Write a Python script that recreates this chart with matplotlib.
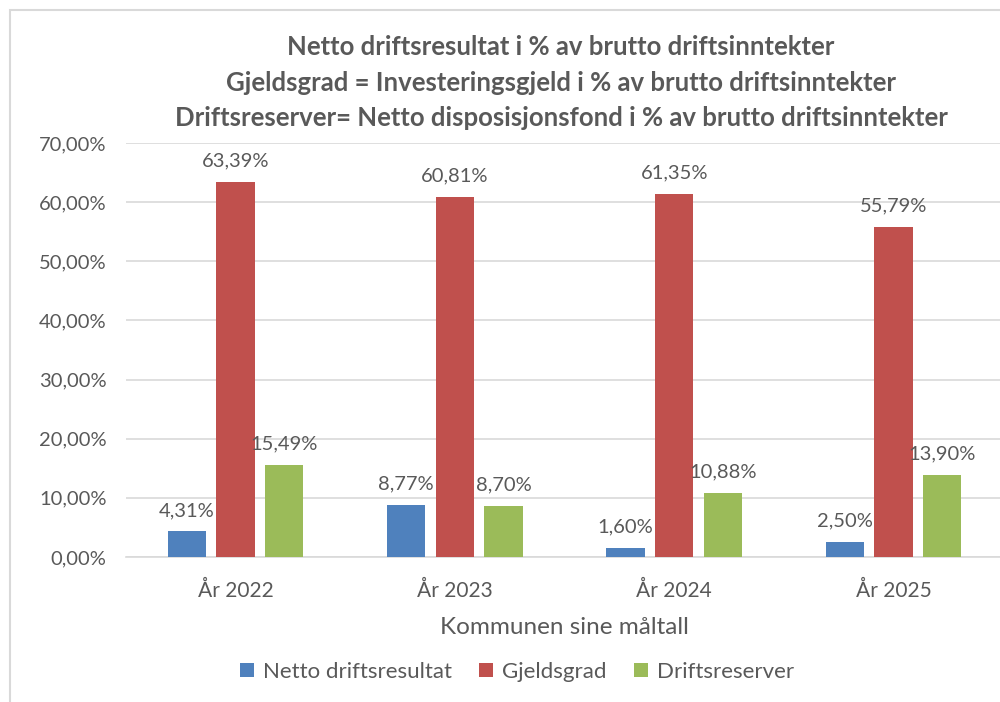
import matplotlib.pyplot as plt
import numpy as np
from matplotlib.patches import Rectangle
from matplotlib.ticker import FuncFormatter

plt.rcParams['font.family'] = ['Lato', 'DejaVu Sans']

years = ['År 2022', 'År 2023', 'År 2024', 'År 2025']
series = ['Netto driftsresultat', 'Gjeldsgrad', 'Driftsreserver']
netto = [4.31, 8.77, 1.60, 2.50]
gjeld = [63.39, 60.81, 61.35, 55.79]
reserver = [15.49, 8.70, 10.88, 13.90]
colors = ['#4F81BD', '#C0504D', '#9BBB59']
txt = '#595959'

fig = plt.figure(figsize=(10, 7.02), dpi=100)
ax = fig.add_axes([0.126, 0.2066, 0.877, 0.5897])

x = np.arange(len(years))
width = 0.175
offset = 0.222
for i, (vals, col, name) in enumerate(zip([netto, gjeld, reserver], colors, series)):
	pos = x + (i - 1) * offset
	ax.bar(pos, vals, width, color=col, label=name, zorder=3)
	for p, v in zip(pos, vals):
		ax.annotate(('%.2f%%' % v).replace('.', ','), (p, v), xytext=(0, 9),
					textcoords='offset points', ha='center', va='bottom',
					fontsize=14.5, color=txt)

ax.set_xlim(-0.5, 3.5)
ax.set_ylim(0, 70)
ax.set_yticks(np.arange(0, 71, 10))
ax.yaxis.set_major_formatter(FuncFormatter(lambda v, _: ('%.2f%%' % v).replace('.', ',')))
ax.set_xticks(x)
ax.set_xticklabels(years)
ax.tick_params(axis='both', length=0, colors=txt)
ax.tick_params(axis='x', pad=17, labelsize=15)
ax.tick_params(axis='y', pad=14, labelsize=14.5)
ax.grid(axis='y', color='#D9D9D9', linewidth=1.2, zorder=0)
for s in ['top', 'right', 'left']:
	ax.spines[s].set_visible(False)
ax.spines['bottom'].set_color('#D9D9D9')
ax.spines['bottom'].set_linewidth(1.2)
ax.set_xlabel('Kommunen sine måltall', fontsize=17.5, color=txt, labelpad=12)

fig.text(0.561, 0.882, 'Netto driftsresultat i % av brutto driftsinntekter\n'
		 'Gjeldsgrad = Investeringsgjeld i % av brutto driftsinntekter\n'
		 'Driftsreserver= Netto disposisjonsfond i % av brutto driftsinntekter',
		 ha='center', va='center', fontsize=18.5, fontweight='bold', color=txt,
		 linespacing=1.57)

fig.legend(loc='center', bbox_to_anchor=(0.517, 0.043), ncol=3, frameon=False,
		   fontsize=16, handlelength=0.65, handleheight=0.65, handletextpad=0.4,
		   columnspacing=1.2, labelcolor=txt)

fig.patches.append(Rectangle((0.01, -0.1), 1.0, 1 - 10 / 702 + 0.1, transform=fig.transFigure,
							 fill=False, edgecolor='#D9D9D9', linewidth=1.5))

fig.savefig('out.png', dpi=100)
